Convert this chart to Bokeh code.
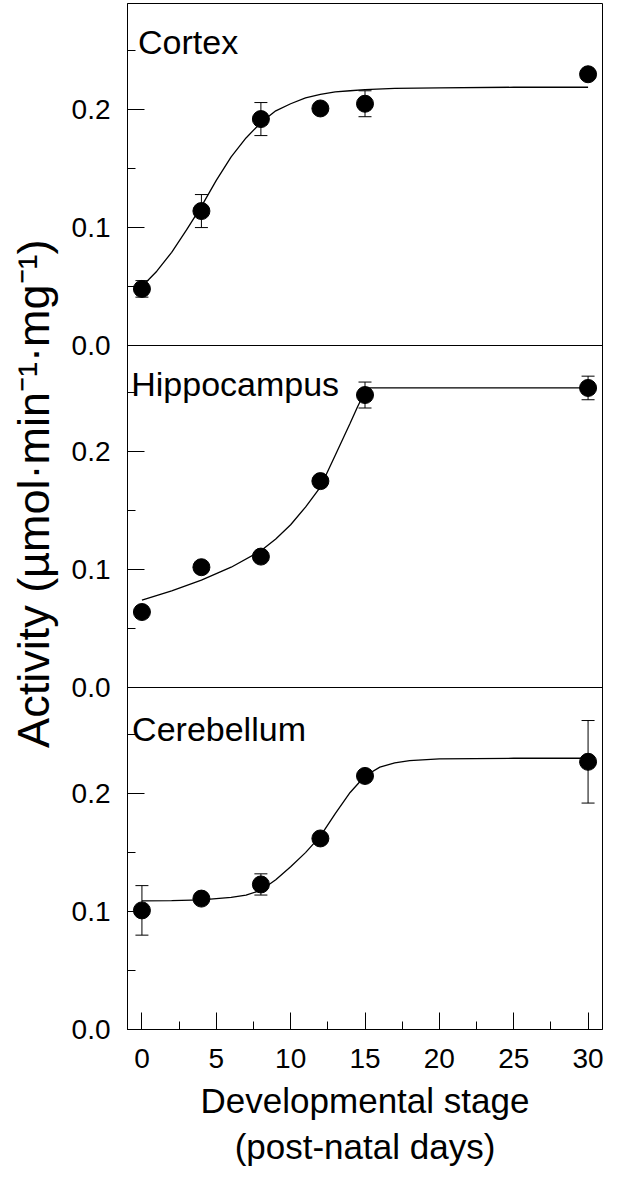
import numpy as np
from bokeh.plotting import figure
from bokeh.models import (Range1d, FixedTicker, ColumnDataSource, Whisker, TeeHead,
                          Label, Span, Title)
from bokeh.embed import file_html
from bokeh.resources import INLINE

# ---------------- data ----------------
days = [0, 4, 8, 12, 15, 30]
regions = ["Cortex", "Hippocampus", "Cerebellum"]

cortex_mean = [0.048, 0.114, 0.192, 0.201, 0.205, 0.230]
cortex_err = [0.007, 0.014, 0.014, 0.003, 0.011, 0.003]
hippo_mean = [0.064, 0.102, 0.111, 0.175, 0.248, 0.254]
hippo_err = [0.003, 0.003, 0.003, 0.003, 0.011, 0.010]
cereb_mean = [0.101, 0.111, 0.123, 0.162, 0.215, 0.227]
cereb_err = [0.021, 0.003, 0.009, 0.003, 0.003, 0.035]

# fitted curves
cortex_fit_x = [0, 1, 2, 3, 4, 5, 6, 7, 8, 9, 10, 11, 12, 13, 14, 15, 17, 20, 25, 30]
cortex_fit_y = [0.050, 0.063, 0.079, 0.098, 0.118, 0.140, 0.160, 0.176, 0.189, 0.199,
                0.205, 0.210, 0.213, 0.215, 0.216, 0.217, 0.218, 0.2185, 0.219, 0.219]
hippo_fit_x = [0, 2, 4, 6, 8, 9, 10, 11, 12, 13, 14, 14.5, 15, 15.2, 20, 25, 30]
hippo_fit_y = [0.074, 0.082, 0.091, 0.102, 0.116, 0.126, 0.138, 0.153, 0.170, 0.197,
               0.224, 0.238, 0.251, 0.254, 0.254, 0.254, 0.254]
cereb_fit_x = [0, 2, 4, 6, 7, 8, 9, 10, 11, 12, 13, 14, 15, 16, 17, 18, 20, 25, 30]
cereb_fit_y = [0.109, 0.1093, 0.110, 0.112, 0.114, 0.118, 0.127, 0.138, 0.150, 0.164,
               0.183, 0.201, 0.215, 0.2225, 0.226, 0.228, 0.2295, 0.230, 0.230]

x_ticks = [0, 5, 10, 15, 20, 25, 30]
x_minor = [2.5, 7.5, 12.5, 17.5, 22.5, 27.5]
y_ticks = [0.0, 0.1, 0.2]
y_minor = [0.05, 0.15, 0.25]

x_title = "Developmental stage\n(post-natal days)"
y_title = "Activity (\u00b5mol\u00b7min\u207b\u00b9\u00b7mg\u207b\u00b9)"

# ---------------- styling / layout ----------------
FONT = "Liberation Sans"
PANEL_TOP = 0.29          # each panel shows 0 .. 0.29
N = len(regions)
label_x = {"Cortex": -0.26, "Hippocampus": -0.72, "Cerebellum": -0.66}
label_y = {"Cortex": 0.257, "Hippocampus": 0.257, "Cerebellum": 0.2545}

means = [cortex_mean, hippo_mean, cereb_mean]
errs = [cortex_err, hippo_err, cereb_err]
fits = [(cortex_fit_x, cortex_fit_y), (hippo_fit_x, hippo_fit_y), (cereb_fit_x, cereb_fit_y)]

total = N * PANEL_TOP
p = figure(width=604, height=1173, x_range=Range1d(-0.97, 30.97),
           y_range=Range1d(0, total), output_backend="svg", toolbar_location=None,
           min_border_left=125, min_border_right=2, min_border_top=3,
           min_border_bottom=144)
p.grid.visible = False
p.outline_line_color = "black"
p.outline_line_width = 1
p.background_fill_color = "white"
p.border_fill_color = "white"

# one y-range per panel (stacked, top panel first)
for i, name in enumerate(regions):
    k = N - 1 - i            # stack position from the bottom
    p.extra_y_ranges[name] = Range1d(-k * PANEL_TOP, total - k * PANEL_TOP)

# combined left axis, labels repeat per panel
maj, mnr, over = [], [], {}
for k in range(N):
    for t in y_ticks:
        v = round(t + k * PANEL_TOP, 3)
        maj.append(v)
        over[v] = f"{t:.1f}"
    for t in y_minor:
        mnr.append(round(t + k * PANEL_TOP, 3))

ya = p.yaxis[0]
ya.ticker = FixedTicker(ticks=maj, minor_ticks=mnr)
ya.major_label_overrides = over
xa = p.xaxis[0]
xa.ticker = FixedTicker(ticks=x_ticks, minor_ticks=x_minor)
for ax in (xa, ya):
    ax.major_tick_in = 17
    ax.major_tick_out = 0
    ax.minor_tick_in = 8
    ax.minor_tick_out = 0
    ax.major_label_text_font = FONT
    ax.major_label_text_font_size = "28px"
    ax.major_label_text_color = "black"
    ax.axis_line_color = "black"
    ax.major_tick_line_color = "black"
    ax.minor_tick_line_color = "black"
ya.major_label_standoff = 17
xa.major_label_standoff = 19
xa.axis_label = x_title
xa.axis_label_text_font = FONT
xa.axis_label_text_font_size = "35px"
xa.axis_label_text_font_style = "normal"
xa.axis_label_text_color = "black"
xa.axis_label_standoff = 10
xa.axis_label_text_line_height = 1.2

p.add_layout(Title(text=y_title, text_font=FONT, text_font_size="45px",
                   text_font_style="normal", text_color="black",
                   align="right", vertical_align="top", offset=236, standoff=15), "left")

# panel separators
for k in range(1, N):
    p.add_layout(Span(location=k * PANEL_TOP, dimension="width",
                      line_color="black", line_width=1))

for i, name in enumerate(regions):
    fx, fy = fits[i]
    p.line(fx, fy, line_color="black", line_width=1.3, y_range_name=name)

    m = np.array(means[i])
    e = np.array(errs[i])
    src = ColumnDataSource(dict(x=days, y=m, lo=m - e, hi=m + e))
    p.add_layout(Whisker(base="x", upper="hi", lower="lo", source=src, y_range_name=name,
                         line_color="black", line_width=1,
                         upper_head=TeeHead(size=13, line_color="black", line_width=1),
                         lower_head=TeeHead(size=13, line_color="black", line_width=1)))
    p.scatter("x", "y", source=src, size=17, fill_color="black", line_color="black",
              y_range_name=name)

    p.add_layout(Label(x=label_x[name], y=label_y[name], y_range_name=name, text=name,
                       text_font=FONT, text_font_size="34px", text_color="black",
                       text_baseline="alphabetic", text_align="left"))

open("out.html", "w").write(file_html(p, INLINE))
